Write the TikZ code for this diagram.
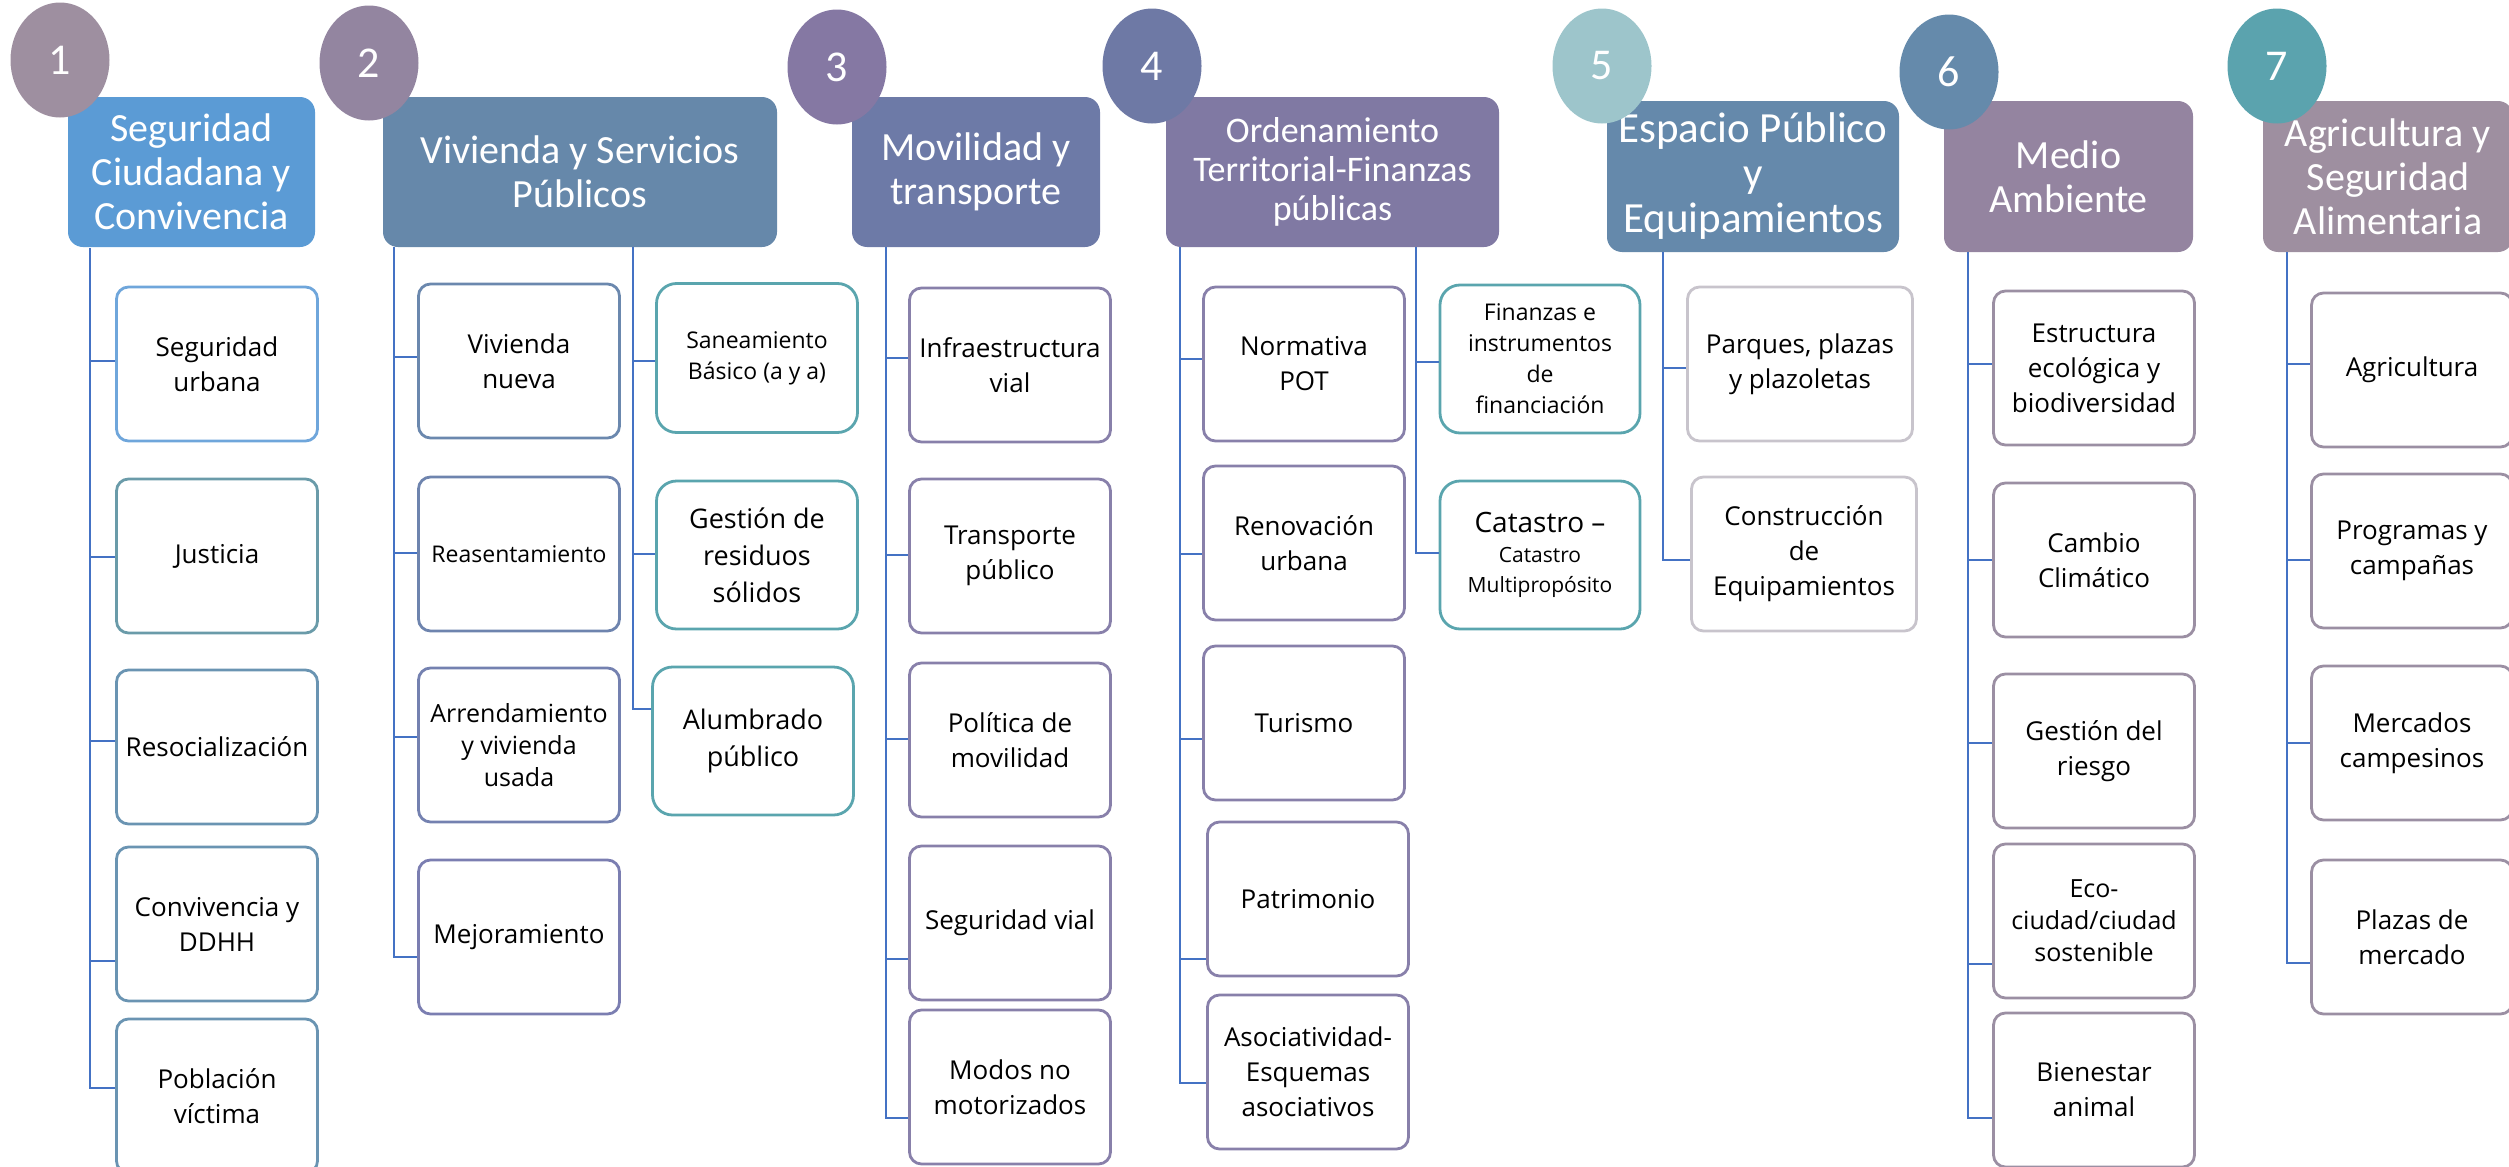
\documentclass[tikz,border=0pt]{standalone}
\usepackage{fontspec}
\usepackage{tikz}
\usetikzlibrary{shapes.geometric}
\newfontfamily\hdrfont{Carlito}
\newfontfamily\boxfont{Open Sans}
\newcommand{\smallline}[1]{{\fontsize{21}{28}\selectfont #1}}
% colores de circulos, cabeceras y bordes
\definecolor{linkblue}{HTML}{4472C4}
\definecolor{cA}{HTML}{9E8FA0}
\definecolor{cB}{HTML}{9385A0}
\definecolor{cC}{HTML}{8578A3}
\definecolor{cD}{HTML}{6E79A5}
\definecolor{cE}{HTML}{9DC5CB}
\definecolor{cF}{HTML}{658AAB}
\definecolor{cG}{HTML}{5BA3AE}
\definecolor{hA}{HTML}{5B9BD5}
\definecolor{hB}{HTML}{6688AA}
\definecolor{hC}{HTML}{6D7AA7}
\definecolor{hD}{HTML}{8079A3}
\definecolor{hE}{HTML}{6589AB}
\definecolor{hF}{HTML}{9484A0}
\definecolor{hG}{HTML}{9E8FA0}
\definecolor{bblue}{HTML}{6FA6DB}
\definecolor{bjust}{HTML}{6A9BA9}
\definecolor{bsteel}{HTML}{6A94B2}
\definecolor{bvA}{HTML}{6B88AE}
\definecolor{bvB}{HTML}{6E84AE}
\definecolor{bvC}{HTML}{7481B0}
\definecolor{bvD}{HTML}{7B7EB1}
\definecolor{bteal}{HTML}{5AA5AE}
\definecolor{bpurple}{HTML}{8880AA}
\definecolor{bgray}{HTML}{C8C4CC}
\definecolor{bmauve}{HTML}{9B8FA3}

\begin{document}
\begin{tikzpicture}[x=1pt, y=-1pt,
    num/.style={ellipse, inner sep=0pt, minimum width=99pt, minimum height=115pt, text=white, font=\hdrfont\fontsize{44}{44}\selectfont},
    hdr/.style={rounded corners=15pt, inner sep=0pt, minimum height=150pt, text=white, align=center, font=\hdrfont\fontsize{40}{44}\selectfont},
    subbox/.style={draw, rounded corners=12pt, line width=2.8pt, fill=white, inner sep=0pt, minimum width=201pt, minimum height=154pt, align=center, font=\boxfont\fontsize{26}{35}\selectfont},
    subsm/.style={font=\boxfont\fontsize{23}{31}\selectfont},
    submid/.style={font=\boxfont\fontsize{25}{32}\selectfont},
    subbig/.style={font=\boxfont\fontsize{27}{37}\selectfont},
    tealbox/.style={draw=bteal, rounded corners=20pt, minimum height=148pt},
    link/.style={draw=linkblue, line width=2pt}]
    \useasboundingbox (0,0) rectangle (2509,1167);

    % cabeceras
    \node[hdr, fill=hA, minimum width=247pt] (h1) at (191.5,172) {Seguridad\\Ciudadana y\\Convivencia};
    \node[hdr, fill=hB, minimum width=394pt] (h2) at (580,172) {Vivienda y Servicios\\Públicos};
    \node[hdr, fill=hC, minimum width=248pt] (h3) at (976,172) {Movilidad y\\transporte};
    \node[hdr, fill=hD, minimum width=333pt, font=\hdrfont\fontsize{36}{39}\selectfont] (h4) at (1332.5,172) {Ordenamiento\\Territorial-Finanzas\\públicas};
    \node[hdr, fill=hE, minimum width=292pt, minimum height=151pt, font=\hdrfont\fontsize{43}{45}\selectfont] (h5) at (1753,176.5) {Espacio Público\\y\\Equipamientos};
    \node[hdr, fill=hF, minimum width=249pt, minimum height=151pt] (h6) at (2068.5,176.5) {Medio\\Ambiente};
    \node[hdr, fill=hG, minimum width=250pt, minimum height=151pt] (h7) at (2388,176.5) {Agricultura y\\Seguridad\\Alimentaria};

    % numeros
    \node[num, fill=cA] (n1) at (60,60) {1};
    \node[num, fill=cB] (n2) at (369,63) {2};
    \node[num, fill=cC] (n3) at (837,67) {3};
    \node[num, fill=cD] (n4) at (1152,66) {4};
    \node[num, fill=cE] (n5) at (1602,66) {5};
    \node[num, fill=cF] (n6) at (1949,72) {6};
    \node[num, fill=cG] (n7) at (2277,66) {7};

    % 1 seguridad
    \node[subbox, draw=bblue] (s11) at (217,364) {Seguridad\\urbana};
    \node[subbox, draw=bjust] (s12) at (217,556) {Justicia};
    \node[subbox, draw=bsteel] (s13) at (217,747) {Resocialización};
    \node[subbox, draw=bsteel] (s14) at (217,924) {Convivencia y\\DDHH};
    \node[subbox, draw=bsteel] (s15) at (217,1096) {Población\\víctima};

    % 2 vivienda
    \node[subbox, draw=bvA] (v1) at (519,361) {Vivienda\\nueva};
    \node[subbox, draw=bvB, subsm] (v2) at (519,554) {Reasentamiento};
    \node[subbox, draw=bvC, submid] (v3) at (519,745) {Arrendamiento\\y vivienda\\usada};
    \node[subbox, draw=bvD] (v4) at (519,937) {Mejoramiento};
    \node[subbox, tealbox, subsm, minimum height=149pt] (w1) at (757,358) {Saneamiento\\Básico (a y a)};
    \node[subbox, tealbox, subbig] (w2) at (757,555) {Gestión de\\residuos\\sólidos};
    \node[subbox, tealbox, subbig] (w3) at (753,741) {Alumbrado\\público};

    % 3 movilidad
    \node[subbox, draw=bpurple] (m1) at (1010,365) {Infraestructura\\vial};
    \node[subbox, draw=bpurple] (m2) at (1010,556) {Transporte\\público};
    \node[subbox, draw=bpurple] (m3) at (1010,740) {Política de\\movilidad};
    \node[subbox, draw=bpurple] (m4) at (1010,923) {Seguridad vial};
    \node[subbox, draw=bpurple] (m5) at (1010,1087) {Modos no\\motorizados};

    % 4 ordenamiento
    \node[subbox, draw=bpurple] (o1) at (1304,364) {Normativa\\POT};
    \node[subbox, draw=bpurple] (o2) at (1304,543) {Renovación\\urbana};
    \node[subbox, draw=bpurple] (o3) at (1304,723) {Turismo};
    \node[subbox, draw=bpurple] (o4) at (1308,899) {Patrimonio};
    \node[subbox, draw=bpurple] (o5) at (1308,1072) {Asociatividad-\\Esquemas\\asociativos};
    \node[subbox, tealbox, subsm, minimum width=200pt] (f1) at (1540,359) {Finanzas e\\instrumentos\\de\\financiación};
    \node[subbox, tealbox, minimum width=200pt, font=\boxfont\fontsize{28}{30}\selectfont] (f2) at (1540,555) {Catastro –\\\smallline{Catastro}\\\smallline{Multipropósito}};

    % 5 espacio publico
    \node[subbox, draw=bgray, minimum width=225pt] (e1) at (1800,364) {Parques, plazas\\y plazoletas};
    \node[subbox, draw=bgray, minimum width=225pt] (e2) at (1804,554) {Construcción\\de\\Equipamientos};

    % 6 medio ambiente
    \node[subbox, draw=bmauve] (a1) at (2094,368) {Estructura\\ecológica y\\biodiversidad};
    \node[subbox, draw=bmauve] (a2) at (2094,560) {Cambio\\Climático};
    \node[subbox, draw=bmauve] (a3) at (2094,751) {Gestión del\\riesgo};
    \node[subbox, draw=bmauve, submid] (a4) at (2094,921) {Eco-\\ciudad/ciudad\\sostenible};
    \node[subbox, draw=bmauve] (a5) at (2094,1090) {Bienestar\\animal};

    % 7 agricultura
    \node[subbox, draw=bmauve] (g1) at (2412,370) {Agricultura};
    \node[subbox, draw=bmauve] (g2) at (2412,551) {Programas y\\campañas};
    \node[subbox, draw=bmauve] (g3) at (2412,743) {Mercados\\campesinos};
    \node[subbox, draw=bmauve] (g4) at (2412,937) {Plazas de\\mercado};

    % lineas de conexion
    \coordinate (sp1) at (90,248);
    \coordinate (sp2a) at (394,247);
    \coordinate (sp2b) at (633,247);
    \coordinate (sp3) at (886,247);
    \coordinate (sp4a) at (1180,247);
    \coordinate (sp4b) at (1416,247);
    \coordinate (sp5) at (1663,252);
    \coordinate (sp6) at (1968,252);
    \coordinate (sp7) at (2287,252);
    \foreach \b/\s in {s11/3, s12/-1, s13/6, s14/-37, s15/8}
        \draw[link] (sp1) |- ([yshift=\s pt]\b.west);
    \foreach \b/\s in {v1/4, v2/1, v3/8, v4/-20}
        \draw[link] (sp2a) |- ([yshift=\s pt]\b.west);
    \foreach \b/\s in {w1/-3, w2/1, w3/32}
        \draw[link] (sp2b) |- ([yshift=\s pt]\b.west);
    \foreach \b/\s in {m1/7, m2/1, m3/1, m4/-36, m5/-31}
        \draw[link] (sp3) |- ([yshift=\s pt]\b.west);
    \foreach \b/\s in {o1/5, o2/-11, o3/-16, o4/-60, o5/-11}
        \draw[link] (sp4a) |- ([yshift=\s pt]\b.west);
    \foreach \b/\s in {f1/-3, f2/2}
        \draw[link] (sp4b) |- ([yshift=\s pt]\b.west);
    \foreach \b/\s in {e1/-4, e2/-6}
        \draw[link] (sp5) |- ([yshift=\s pt]\b.west);
    \foreach \b/\s in {a1/4, a2/0, a3/8, a4/-43, a5/-28}
        \draw[link] (sp6) |- ([yshift=\s pt]\b.west);
    \foreach \b/\s in {g1/6, g2/-9, g3/0, g4/-26}
        \draw[link] (sp7) |- ([yshift=\s pt]\b.west);
\end{tikzpicture}
\end{document}
